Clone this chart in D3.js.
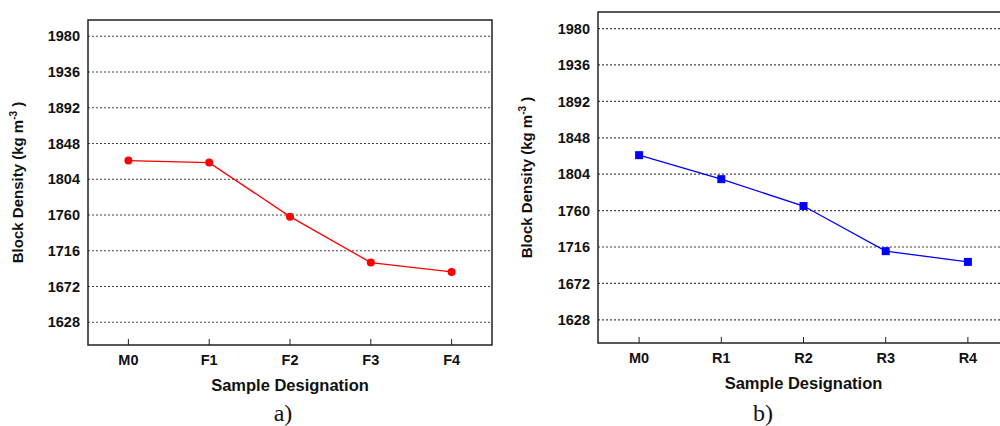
<!DOCTYPE html>
<html><head><meta charset="utf-8">
<script src="https://cdn.jsdelivr.net/npm/d3@7"></script>
<style>body{margin:0;background:#fff;}svg{display:block;}</style>
</head><body>
<svg id="c" width="1000" height="426"></svg>
<script>
const yTicks = [1628, 1672, 1716, 1760, 1804, 1848, 1892, 1936, 1980];
const catsA = ["M0", "F1", "F2", "F3", "F4"];
const valsA = [1827, 1824.5, 1758, 1701.5, 1690];
const catsB = ["M0", "R1", "R2", "R3", "R4"];
const valsB = [1827, 1798, 1765.5, 1711, 1698];
const yDomain = [1600, 2000];

const svg = d3.select("#c");

function panel(o) {
  const g = svg.append("g");
  const x = d3.scaleBand().domain(o.cats).range([o.x0, o.x1]);
  const y = d3.scaleLinear().domain(yDomain).range([o.y1, o.y0]);
  const cx = d => x(d) + x.bandwidth() / 2;

  g.selectAll(".grid").data(yTicks).join("line")
    .attr("x1", o.x0).attr("x2", o.x1)
    .attr("y1", d => y(d)).attr("y2", d => y(d))
    .attr("stroke", "#444").attr("stroke-width", 1.2)
    .attr("stroke-dasharray", "2,2");

  g.selectAll(".yl").data(yTicks).join("text")
    .attr("x", o.x0 - 8).attr("y", d => y(d)).attr("dy", "0.36em")
    .attr("text-anchor", "end")
    .attr("font-family", "Liberation Sans, Arial, sans-serif")
    .attr("font-weight", "bold").attr("font-size", 14.5).attr("fill", "#111")
    .text(d => d);

  g.selectAll(".xt").data(o.cats).join("line")
    .attr("x1", cx).attr("x2", cx)
    .attr("y1", o.y1).attr("y2", o.y1 - 6)
    .attr("stroke", "#222").attr("stroke-width", 1);

  g.selectAll(".xl").data(o.cats).join("text")
    .attr("x", cx).attr("y", o.y1 + 20)
    .attr("text-anchor", "middle")
    .attr("font-family", "Liberation Sans, Arial, sans-serif")
    .attr("font-weight", "bold").attr("font-size", 14.5).attr("fill", "#111")
    .text(d => d);

  g.append("rect").attr("x", o.x0).attr("y", o.y0)
    .attr("width", o.x1 - o.x0).attr("height", o.y1 - o.y0)
    .attr("fill", "none").attr("stroke", "#222").attr("stroke-width", 1.5);

  const pts = o.cats.map((c, i) => [cx(c), y(o.vals[i])]);
  g.append("path").attr("d", d3.line()(pts))
    .attr("fill", "none").attr("stroke", o.color).attr("stroke-width", 1.3);

  if (o.marker === "circle") {
    g.selectAll(".m").data(pts).join("circle")
      .attr("cx", d => d[0]).attr("cy", d => d[1]).attr("r", 4)
      .attr("fill", o.color);
  } else {
    g.selectAll(".m").data(pts).join("rect")
      .attr("x", d => d[0] - 4).attr("y", d => d[1] - 4)
      .attr("width", 8).attr("height", 8)
      .attr("fill", o.color);
  }

  g.append("text").attr("x", (o.x0 + o.x1) / 2).attr("y", o.y1 + 46)
    .attr("text-anchor", "middle")
    .attr("font-family", "Liberation Sans, Arial, sans-serif")
    .attr("font-weight", "bold").attr("font-size", 16.5).attr("fill", "#111")
    .text("Sample Designation");

  const yl = g.append("text")
    .attr("transform", `translate(${o.ylx},${(o.y0 + o.y1) / 2}) rotate(-90)`)
    .attr("text-anchor", "middle")
    .attr("font-family", "Liberation Sans, Arial, sans-serif")
    .attr("font-weight", "bold").attr("font-size", 15).attr("fill", "#111");
  yl.append("tspan").text("Block Density (kg m");
  yl.append("tspan").attr("dy", -6).attr("font-size", 10).text("-3");
  yl.append("tspan").attr("dy", 6).text(" )");

  g.append("text").attr("x", o.capX).attr("y", o.capY)
    .attr("text-anchor", "middle")
    .attr("font-family", "Liberation Serif, Times New Roman, serif")
    .attr("font-size", 24).attr("fill", "#111")
    .text(o.caption);
}

panel({x0: 88, x1: 492, y0: 20, y1: 345, cats: catsA, vals: valsA, color: "#ff0000",
       marker: "circle", ylx: 23, capX: 283, capY: 421, caption: "a)"});
panel({x0: 598, x1: 1009, y0: 12, y1: 343, cats: catsB, vals: valsB, color: "#0000ff",
       marker: "square", ylx: 532, capX: 763, capY: 421, caption: "b)"});
</script>
</body></html>
